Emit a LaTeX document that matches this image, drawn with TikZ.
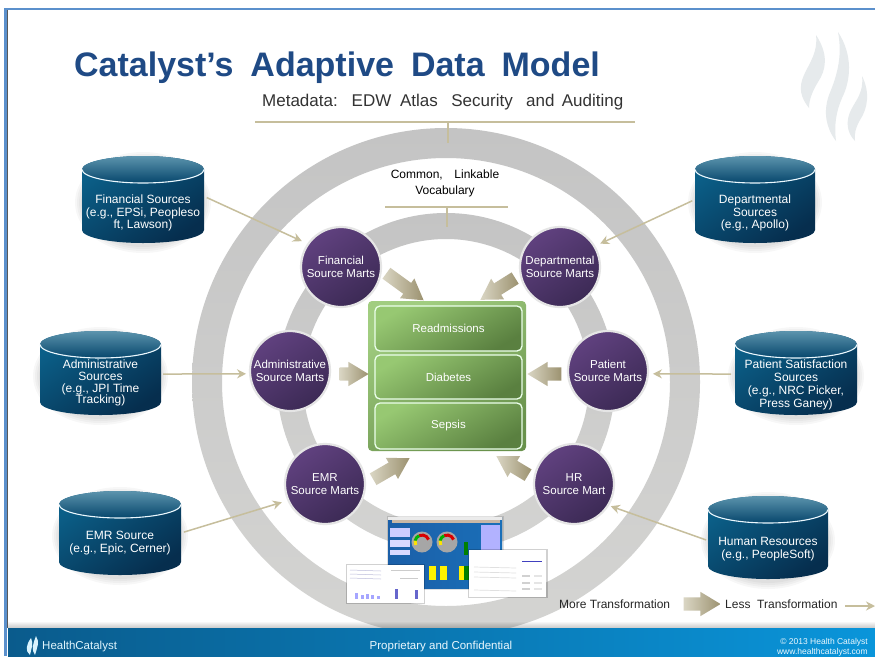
\documentclass[tikz,border=0pt]{standalone}
\usepackage{fontspec}
\setmainfont{Liberation Sans}
\usetikzlibrary{arrows.meta,shapes.arrows,calc}
\definecolor{tan}{HTML}{C6BE9C}
\definecolor{ringA}{HTML}{C4C4C4}
\definecolor{ringB}{HTML}{D4D4D2}
\definecolor{purple1}{HTML}{60417F}
\definecolor{purple2}{HTML}{3C2A55}
\definecolor{arrowA}{HTML}{DAD6C4}
\definecolor{arrowB}{HTML}{9C9270}
\definecolor{greenA}{HTML}{97C872}
\definecolor{greenB}{HTML}{5A8040}
\definecolor{cylA}{HTML}{0B5F88}
\definecolor{cylB}{HTML}{062E4E}
\definecolor{lidA}{HTML}{5C94AD}
\definecolor{lidB}{HTML}{06466C}
\definecolor{titleblue}{HTML}{1F4A85}
\definecolor{frameblue}{HTML}{5B90CC}
\definecolor{flame}{HTML}{E6EAEC}
\definecolor{footA}{HTML}{0A5B8C}
\definecolor{footB}{HTML}{0A95DA}
\definecolor{dashA}{HTML}{1B5FA8}
\definecolor{dashB}{HTML}{1A6FB8}
\tikzset{
  smalltext/.style={font=\fontsize{11.5pt}{12.6pt}\selectfont,align=center,inner sep=0pt},
  whitetext/.style={smalltext,text=white},
  cyltext/.style={font=\fontsize{12pt}{12.8pt}\selectfont,align=center,inner sep=0pt,text=white},
  legendtext/.style={font=\fontsize{12pt}{13pt}\selectfont,inner sep=0pt,text=black!85,anchor=west},
  marktnode/.style={circle,minimum size=80pt,inner sep=0pt,outer sep=0pt,draw=white!90!black,line width=2.2pt,
    top color=purple1,bottom color=purple2,shading angle=35,whitetext},
  srcbox/.style={rectangle,inner sep=0pt,outer sep=0pt},
  feed/.style={draw=tan,line width=1.5pt,-{Stealth[length=9pt,width=9pt]}},
  rule/.style={draw=tan,line width=1.5pt},
  blockarrow/.style={single arrow,inner sep=0pt,outer sep=0pt,minimum width=24pt,single arrow head extend=5.5pt,
    single arrow tip angle=62,left color=arrowA,right color=arrowB,draw=none},
  topicbox/.style={rectangle,rounded corners=5pt,draw=white!92!green,line width=1.3pt,inner sep=0pt,outer sep=0pt,
    top color=greenA,bottom color=greenB,shading angle=30,whitetext,minimum width=147pt},
}
\newcommand{\shaftrule}{\rule{0pt}{13pt}}
% name, x1, x2, y1, y2, text centre y, text
\newcommand{\dbcyl}[7]{%
  \pgfmathsetmacro{\cx}{(#2+#3)/2}\pgfmathsetmacro{\rx}{(#3-#2)/2}%
  \pgfmathsetmacro{\cy}{(#4+#5)/2}\pgfmathsetmacro{\hh}{#5-#4}\pgfmathsetmacro{\ww}{#3-#2}%
  \pgfmathsetmacro{\yb}{#5-13}\pgfmathsetmacro{\yt}{#4+13.5}%
  \foreach \g in {7,5,3,1}{\fill[black,opacity=.03] (\cx,\cy+3) ellipse[x radius=\rx pt+\g pt,y radius=\hh pt/2+\g pt];}
  \shade[top color=cylA,bottom color=cylB,shading angle=35] (#2,\yb) arc[start angle=180,end angle=360,x radius=\rx pt,y radius=13pt]
     -- (#3,\yt) arc[start angle=0,end angle=180,x radius=\rx pt,y radius=13.5pt] -- cycle;
  \shade[top color=lidA,bottom color=lidB] (\cx,\yt) ellipse[x radius=\rx pt,y radius=13.5pt];
  \draw[white!92!cyan,line width=1.1pt] (#2,\yt) arc[start angle=180,end angle=360,x radius=\rx pt,y radius=13.5pt];
  \node[srcbox,minimum width=\ww pt,minimum height=\hh pt] (#1) at (\cx,\cy) {};
  \node[cyltext] (#1t) at (\cx,#6) {#7};
}
\newcommand{\flamepaths}{%
  (816,35) .. controls (829,55) and (826,70) .. (818,82) .. controls (812,92) and (809,100) .. (809,108)
     .. controls (801,98) and (798,88) .. (804,75) .. controls (810,62) and (818,52) .. (816,35) -- cycle
  (838,32) .. controls (853,55) and (851,80) .. (842,98) .. controls (836,112) and (834,125) .. (836,141)
     .. controls (826,128) and (823,112) .. (829,95) .. controls (836,78) and (843,58) .. (838,32) -- cycle
  (862,76) .. controls (870,92) and (868,108) .. (860,120) .. controls (856,127) and (854,133) .. (855,141)
     .. controls (846,132) and (846,120) .. (851,110) .. controls (856,100) and (864,92) .. (862,76) -- cycle}
\begin{document}
\begin{tikzpicture}[x=1pt,y=-1pt]
\useasboundingbox (0,0) rectangle (875,656);
\fill[white] (0,0) rectangle (875,656);
% watermark
\fill[flame] \flamepaths;
% frame
\fill[frameblue] (4,8) rectangle (875,10);
\fill[frameblue] (4,8) rectangle (6.5,656);
\fill[black!65] (6.5,10) rectangle (8,628);
% rings
\coordinate (hub) at (446,382);
\path[even odd rule,top color=ringA,bottom color=ringB] (hub) circle[radius=254pt] (hub) circle[radius=224pt];
\path[even odd rule,top color=ringA,bottom color=ringB] (hub) circle[radius=169pt] (hub) circle[radius=143pt];
% title block
\node[inner sep=0pt,anchor=west,text=titleblue,font=\fontsize{34pt}{38pt}\selectfont\bfseries] (title) at (74,68) {Catalyst’s\hspace{7.5pt} Adaptive\hspace{7.5pt} Data\hspace{7.5pt} Model};
\node[inner sep=0pt,anchor=west,font=\fontsize{17pt}{19pt}\selectfont,text=black!80] (meta) at (262,102) {Metadata:\ \ \hspace{4.5pt}EDW\hspace{4pt} Atlas\ \ \hspace{4pt}Security\ \ \hspace{4pt}and\hspace{2.5pt} Auditing};
\coordinate (ma) at (255,122); \coordinate (mb) at (635,122); \coordinate (mc) at (448,122); \coordinate (md) at (448,143);
\draw[rule] (ma) -- (mb); \draw[rule] (mc) -- (md);
\node[align=center,inner sep=0pt,font=\fontsize{12pt}{16pt}\selectfont,text=black] (vocab) at (445,183) {Common,\ \ \hspace{5pt}Linkable\\Vocabulary};
\coordinate (va) at (385,207); \coordinate (vb) at (508,207); \coordinate (vc) at (447,207); \coordinate (vd) at (447,227);
\draw[rule] (va) -- (vb); \draw[rule] (vc) -- (vd);
% sources
\dbcyl{finsrc}{82}{204}{156}{243}{213}{Financial Sources\\(e.g., EPSi, Peopleso\\ft, Lawson)}
\dbcyl{depsrc}{695}{815}{156}{243}{213}{Departmental\\Sources\\(e.g., Apollo)}
\dbcyl{admsrc}{40}{161}{331}{415}{383}{Administrative\\[-1pt]Sources\\[-1pt](e.g., JPI Time\\[-1pt]Tracking)}
\dbcyl{patsrc}{735}{857}{331}{415}{385}{Patient Satisfaction\\Sources\\(e.g., NRC Picker,\\Press Ganey)}
\dbcyl{emrsrc}{59}{181}{491}{575}{543}{EMR Source\\(e.g., Epic, Cerner)}
\dbcyl{hrsrc}{708}{828}{496}{579}{549}{Human Resources\\(e.g., PeopleSoft)}
% centre box
\shade[top color=greenA!90!white,bottom color=greenB!75!greenA,shading angle=30,rounded corners=4pt] (368,301) rectangle (526,451);
\node[topicbox,minimum height=45pt] (readm) at (448.5,328.5) {Readmissions};
\node[topicbox,minimum height=44pt] (diab) at (448.5,377) {Diabetes};
\node[topicbox,minimum height=46pt] (seps) at (448.5,426) {Sepsis};
% marts
\node[marktnode] (fin) at (341,267) {Financial\\Source Marts};
\node[marktnode] (dep) at (560,267) {Departmental\\Source Marts};
\node[marktnode] (adm) at (290,371) {Administrative\\Source Marts};
\node[marktnode] (pat) at (608,371) {Patient\\Source Marts};
\node[marktnode] (emr) at (325,484) {EMR\\Source Marts};
\node[marktnode] (hr) at (574,484) {HR\\Source Mart};
% feeds
\draw[feed,shorten <=3pt,shorten >=7pt] (finsrc.3) -- (fin.145);
\draw[feed,shorten <=3pt,shorten >=6.5pt] (depsrc.west) -- (dep.31);
\draw[feed,shorten <=2pt,shorten >=4pt] (admsrc.-1) -- (adm.184);
\draw[feed,shorten <=4pt,shorten >=5pt] (patsrc.181) -- (pat.-4);
\draw[feed,shorten <=3pt,shorten >=7pt] (emrsrc.east) -- (emr.204);
\draw[feed,shorten <=2pt,shorten >=3pt] (hrsrc.183) -- (hr.-32);
% block arrows
\node[blockarrow,minimum height=46pt,rotate=-36] (bfin) at (400.5,283.5) {\shaftrule};
\node[blockarrow,minimum height=41pt,rotate=212] (bdep) at (502.5,286) {\shaftrule};
\node[blockarrow,minimum height=29pt] (badm) at (348.5,374) {\shaftrule};
\node[blockarrow,minimum height=34pt,rotate=180] (bpat) at (550,374) {\shaftrule};
\node[blockarrow,minimum height=42pt,rotate=30] (bemr) at (386.5,471.5) {\shaftrule};
\node[blockarrow,minimum height=37pt,rotate=149] (bhr) at (517,468.5) {\shaftrule};
% dashboards
\fill[black,opacity=.12] (386.5,515.5) rectangle (503.5,590);
\shade[left color=dashA,right color=dashB] (388,517) rectangle (502,588);
\fill[black!8] (388,517) rectangle (502,520);
\fill[orange!40!black!35] (392,520) rectangle (500,523);
\fill[white!80!blue] (390,528) rectangle (410,537);
\fill[white!85!blue] (390,540) rectangle (410,547);
\fill[white!85!blue] (390,550) rectangle (410,555);
\fill[white!70!blue] (481,525) rectangle (500,556);
\foreach \gx in {422,447}{
  \fill[gray!70] (\gx,542) circle[radius=10.5pt];
  \draw[red!85!black,line width=3pt] (\gx,542) ++(20:7pt) arc[start angle=20,end angle=115,radius=7pt];
  \draw[green!70!black,line width=3pt] (\gx,542) ++(115:7pt) arc[start angle=115,end angle=170,radius=7pt];
  \draw[yellow!85!orange,line width=3pt] (\gx,542) ++(170:7pt) arc[start angle=170,end angle=205,radius=7pt];
}
\fill[green!50!black] (464,542) rectangle (468,555);
\foreach \bx/\bc in {432/yellow,443/yellow,462/yellow,467/green!50!black}{
  \fill[\bc] (\bx-3.5,566) rectangle (\bx+3.5,580);
}
\fill[black,opacity=.18] (468,549) rectangle (547.5,598);
\fill[white] (469,550) rectangle (546,596.5);
\fill[black,opacity=.18] (346,564) rectangle (425,604);
\fill[white] (347,565) rectangle (424,603);
\foreach \py in {570,574,578}{\draw[blue!30!gray,opacity=.4,line width=.5pt] (350,\py) -- (381,\py+1);}
\foreach \px/\ph in {356/6,362/4,367/5,372/4,378/3}{\fill[blue!35!white] (\px-1.5,599-\ph) rectangle (\px+1.5,599);}
\fill[blue!50!gray!80] (395,589) rectangle (398,599);
\fill[blue!50!gray!80] (415,590) rectangle (418,599);
\draw[black!20,line width=.5pt] (391,570) -- (420,570) (400,578) -- (418,578);
\draw[blue!50!gray,line width=1pt] (522,561) -- (542,561);
\foreach \ly in {567,572,577,590}{\draw[black!12,line width=.7pt] (474,\ly) -- (516,\ly+1);}
\foreach \ly in {575,582,588}{\fill[black!18] (522,\ly) rectangle (530,\ly+2); \fill[black!10] (534,\ly) rectangle (542,\ly+2);}
% footer
\foreach \i in {0,...,6}{\fill[black,opacity=.03] (8,622+\i) rectangle (875,628);}
\shade[left color=footA,right color=footB] (8,628) rectangle (875,656);
\fill[white!85!cyan] (31,638) .. controls (34,644) and (31,649) .. (30,655) .. controls (25,651) and (26,645) .. (31,638) -- cycle
  (36,636) .. controls (40,642) and (37,648) .. (35,655) .. controls (31,650) and (33,644) .. (36,636) -- cycle;
\node[inner sep=0pt,anchor=west,text=white!88!cyan,font=\fontsize{11.5pt}{12pt}\selectfont] (brand) at (42,647) {HealthCatalyst};
\node[inner sep=0pt,text=white!92!cyan,font=\fontsize{11.5pt}{12pt}\selectfont] (prop) at (441,647) {Proprietary and Confidential};
\node[inner sep=0pt,align=right,anchor=east,text=white!92!cyan,font=\fontsize{8.5pt}{10pt}\selectfont] (copy) at (868,647) {© 2013 Health Catalyst\\www.healthcatalyst.com};
% legend
\node[legendtext] (more) at (559,604) {More Transformation};
\node[blockarrow,minimum height=37pt] (blegend) at (696.5,604) {\shaftrule};
\node[legendtext] (less) at (725,604) {Less\ \ Transformation};
\coordinate (lstart) at (845,606);
\coordinate (lend) at (875,606);
\draw[feed] (lstart) -- (lend);
\end{tikzpicture}
\end{document}
